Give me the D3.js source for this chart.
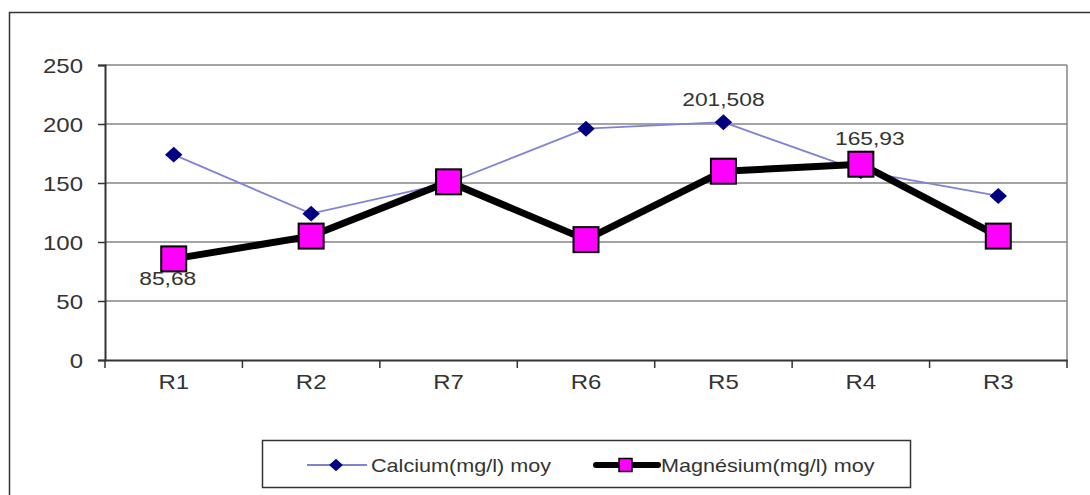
<!DOCTYPE html>
<html>
<head>
<meta charset="utf-8">
<script src="https://cdn.jsdelivr.net/npm/d3@7"></script>
<style>
  html, body { margin: 0; padding: 0; background: #fff; }
  svg { display: block; font-family: "Liberation Sans", Arial, sans-serif; }
</style>
</head>
<body>
<svg id="chart" width="1090" height="495"></svg>
<script>
// Sampling sites, in the order shown along the axis
const categories = ["R1", "R2", "R7", "R6", "R5", "R4", "R3"];
// Mean calcium (mg/l) per site
const calcium = [174, 124, 150, 196, 201.508, 160, 139];
// Mean magnesium (mg/l) per site
const magnesium = [85.68, 105, 151, 102, 160, 165.93, 105];
// Y axis ticks
const yTicks = [0, 50, 100, 150, 200, 250];
// Values written on the chart: [series, index, text, placement]
const valueLabels = [
  ["mg", 0, "85,68", "below"],
  ["ca", 4, "201,508", "above"],
  ["mg", 5, "165,93", "above"]
];
const seriesNames = ["Calcium(mg/l) moy", "Magnésium(mg/l) moy"];

const FONT = "Liberation Sans, Arial, sans-serif";
const STRETCH = 1.2; // wide lettering of the original export
const TEXT = "#333";

const svg = d3.select("#chart");
const plot = { left: 105, right: 1067, top: 65, bottom: 360 };

// Outer frame
svg.append("path")
  .attr("d", "M9.5,495 V12.5 H1090")
  .attr("fill", "none").attr("stroke", "#333").attr("stroke-width", 1.5);

const x = d3.scaleBand().domain(categories).range([plot.left, plot.right]);
const y = d3.scaleLinear().domain([0, 250]).range([plot.bottom, plot.top]);
const cx = d => x(d) + x.bandwidth() / 2;

// Writes stretched text anchored at (px, py)
function label(g, px, py, str, size, anchor) {
  return g.append("text")
    .attr("transform", `translate(${px},${py}) scale(${STRETCH},1)`)
    .attr("text-anchor", anchor || "start")
    .attr("font-size", size).attr("font-family", FONT).attr("fill", TEXT)
    .text(str);
}

// Horizontal grid lines
svg.append("g").selectAll("line").data(yTicks.filter(t => t > 0)).join("line")
  .attr("x1", plot.left).attr("x2", plot.right)
  .attr("y1", d => y(d)).attr("y2", d => y(d))
  .attr("stroke", "#858585").attr("stroke-width", 1.5);

// Right edge of plot area
svg.append("line")
  .attr("x1", plot.right).attr("x2", plot.right)
  .attr("y1", plot.top).attr("y2", plot.bottom)
  .attr("stroke", "#858585").attr("stroke-width", 1.5);

// Y axis
const yAxis = svg.append("g")
  .attr("transform", `translate(${plot.left},0)`)
  .call(d3.axisLeft(y).tickValues(yTicks).tickSize(7));
yAxis.select(".domain").attr("stroke", "#333").attr("stroke-width", 2);
yAxis.selectAll(".tick line").attr("stroke", "#333").attr("stroke-width", 1.5);
yAxis.selectAll(".tick text")
  .attr("x", -22 / STRETCH).attr("dy", "0.35em")
  .attr("transform", `scale(${STRETCH},1)`)
  .attr("font-size", 20).attr("fill", TEXT).attr("font-family", FONT);

// X axis with ticks at category boundaries
const xAxis = svg.append("g")
  .attr("transform", `translate(0,${plot.bottom})`)
  .call(d3.axisBottom(x).tickSize(0).tickPadding(15));
xAxis.select(".domain").attr("stroke", "#333").attr("stroke-width", 2);
xAxis.selectAll(".tick text")
  .attr("transform", `scale(${STRETCH},1)`)
  .attr("font-size", 20).attr("fill", TEXT).attr("font-family", FONT);
xAxis.selectAll("line.bound").data(d3.range(categories.length + 1)).join("line")
  .attr("class", "bound")
  .attr("x1", i => plot.left + i * x.bandwidth())
  .attr("x2", i => plot.left + i * x.bandwidth())
  .attr("y1", 0).attr("y2", 8)
  .attr("stroke", "#333").attr("stroke-width", 1.5);

// Calcium series: thin lavender line with navy diamonds
const line = d3.line().x((d, i) => cx(categories[i])).y(d => y(d));
svg.append("path").datum(calcium)
  .attr("d", line).attr("fill", "none")
  .attr("stroke", "#8282d2").attr("stroke-width", 1.8);
const diamond = d3.symbol().type(d3.symbolDiamond2).size(160);
svg.append("g").selectAll("path").data(calcium).join("path")
  .attr("transform", (d, i) => `translate(${cx(categories[i])},${y(d)}) scale(1.1,1)`)
  .attr("d", diamond).attr("fill", "#000080");

// Magnesium series: thick black line with magenta squares
svg.append("path").datum(magnesium)
  .attr("d", line).attr("fill", "none")
  .attr("stroke", "#000").attr("stroke-width", 7).attr("stroke-linejoin", "round");
const sq = 25;
svg.append("g").selectAll("rect").data(magnesium).join("rect")
  .attr("x", (d, i) => cx(categories[i]) - sq / 2)
  .attr("y", d => y(d) - sq / 2)
  .attr("width", sq).attr("height", sq)
  .attr("fill", "#ff00ff").attr("stroke", "#000").attr("stroke-width", 2);

// Value labels (the magnesium label above its point sits a little to the right)
const vl = svg.append("g");
valueLabels.forEach(d => {
  const v = (d[0] === "ca" ? calcium : magnesium)[d[1]];
  const above = d[3] === "above";
  const ly = above ? y(v) - (d[0] === "mg" ? 19 : 16) : y(v) + 26;
  const lx = cx(categories[d[1]]) + (above ? (d[0] === "mg" ? 9 : 0) : -6);
  label(vl, lx, ly, d[2], 19, "middle");
});

// Legend
const lg = svg.append("g");
lg.append("rect").attr("x", 262.5).attr("y", 440.5).attr("width", 648).attr("height", 47)
  .attr("fill", "#fff").attr("stroke", "#333").attr("stroke-width", 1.5);
const ly = 465;
lg.append("line").attr("x1", 307).attr("x2", 367).attr("y1", ly).attr("y2", ly)
  .attr("stroke", "#8282d2").attr("stroke-width", 1.8);
lg.append("path").attr("transform", `translate(336,${ly}) scale(1.1,1)`)
  .attr("d", d3.symbol().type(d3.symbolDiamond2).size(100)).attr("fill", "#000080");
label(lg, 371, ly + 6.5, seriesNames[0], 18);
lg.append("line").attr("x1", 596).attr("x2", 658).attr("y1", ly).attr("y2", ly)
  .attr("stroke", "#000").attr("stroke-width", 6).attr("stroke-linecap", "round");
lg.append("rect").attr("x", 619).attr("y", ly - 6.5).attr("width", 13).attr("height", 13)
  .attr("fill", "#ff00ff").attr("stroke", "#000").attr("stroke-width", 1.5);
label(lg, 661, ly + 6.5, seriesNames[1], 18);
</script>
</body>
</html>
